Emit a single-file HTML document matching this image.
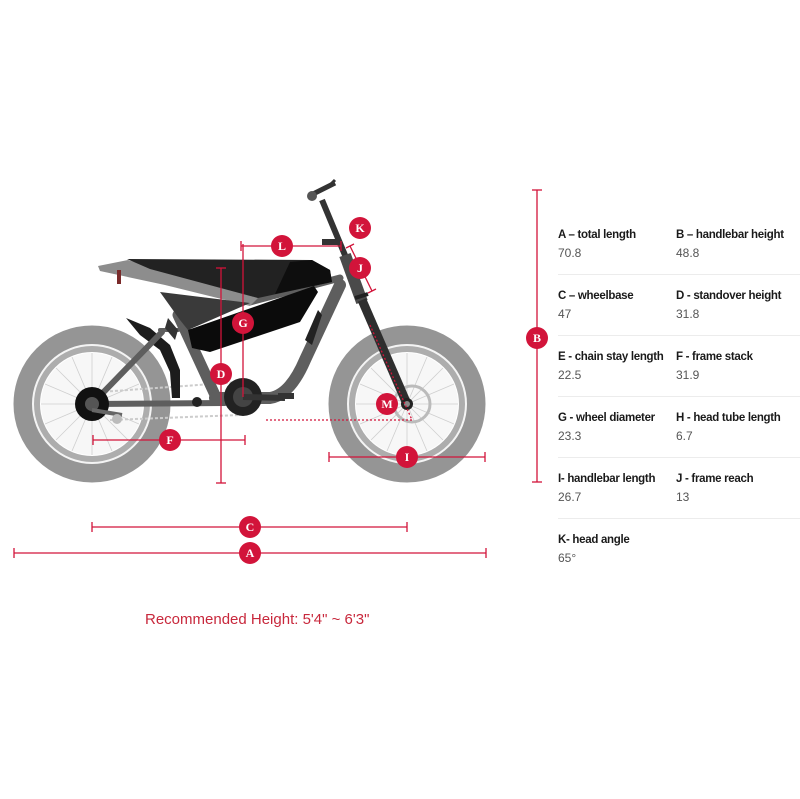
<!DOCTYPE html>
<html><head><meta charset="utf-8"><style>
html,body{margin:0;padding:0;background:#fff;width:800px;height:799px;overflow:hidden}
svg{position:absolute;left:0;top:0}
.lbl{position:absolute;font-family:"Liberation Sans",sans-serif;font-size:11.5px;color:#1a1a1a;font-weight:bold;letter-spacing:-0.3px;white-space:nowrap}
.val{position:absolute;font-family:"Liberation Sans",sans-serif;font-size:12px;color:#555;white-space:nowrap}
.sep{position:absolute;height:1px;background:#ececec}
.rec{position:absolute;left:145px;top:611px;font-family:"Liberation Sans",sans-serif;font-size:15px;color:#c8283c;white-space:nowrap}
</style></head><body>
<svg width="800" height="799" viewBox="0 0 800 799">
<g>
<circle cx="92" cy="404" r="69" fill="none" stroke="#959595" stroke-width="19"/>
<circle cx="92" cy="404" r="59" fill="none" stroke="#f4f4f4" stroke-width="2"/>
<circle cx="92" cy="404" r="55" fill="none" stroke="#adadad" stroke-width="6"/>
<circle cx="92" cy="404" r="51" fill="#f7f7f7"/>
<circle cx="407" cy="404" r="69" fill="none" stroke="#959595" stroke-width="19"/>
<circle cx="407" cy="404" r="59" fill="none" stroke="#f4f4f4" stroke-width="2"/>
<circle cx="407" cy="404" r="55" fill="none" stroke="#adadad" stroke-width="6"/>
<circle cx="407" cy="404" r="51" fill="#f7f7f7"/>
<g stroke="#cfcfcf" stroke-width="0.8">
<line x1="92" y1="353" x2="92" y2="455"/><line x1="41" y1="404" x2="143" y2="404"/>
<line x1="56" y1="368" x2="128" y2="440"/><line x1="128" y1="368" x2="56" y2="440"/>
<line x1="72" y1="357" x2="112" y2="451"/><line x1="112" y1="357" x2="72" y2="451"/>
<line x1="45" y1="384" x2="139" y2="424"/><line x1="139" y1="384" x2="45" y2="424"/>
<line x1="407" y1="353" x2="407" y2="455"/><line x1="356" y1="404" x2="458" y2="404"/>
<line x1="371" y1="368" x2="443" y2="440"/><line x1="443" y1="368" x2="371" y2="440"/>
<line x1="387" y1="357" x2="427" y2="451"/><line x1="427" y1="357" x2="387" y2="451"/>
<line x1="360" y1="384" x2="454" y2="424"/><line x1="454" y1="384" x2="360" y2="424"/>
</g>
<circle cx="412" cy="404" r="18" fill="none" stroke="#bbb" stroke-width="3"/>
</g>
<line x1="100" y1="392" x2="240" y2="382" stroke="#ccc" stroke-width="2" stroke-dasharray="3,2"/>
<line x1="110" y1="420" x2="240" y2="415" stroke="#ccc" stroke-width="2" stroke-dasharray="3,2"/>
<path d="M126 318 L150 328 L170 345 L180 370 L180 398 L172 398 L170 372 L160 350 L140 335 Z" fill="#1c1c1c"/>
<g stroke="#5e5e5e" stroke-linecap="round" fill="none">
<line x1="92" y1="404" x2="225" y2="403" stroke-width="6"/>
<line x1="92" y1="404" x2="162" y2="332" stroke-width="6"/>
<line x1="160" y1="330" x2="178" y2="330" stroke-width="4"/>
<path d="M178 315 L215 395" stroke-width="11"/>
<path d="M340 285 L305 360 Q290 395 270 398 L215 398" stroke-width="12"/>
<line x1="250" y1="302" x2="340" y2="278" stroke-width="7"/>
</g>
<path d="M168 318 L178 330 L175 340 L165 328 Z" fill="#333"/>
<polygon points="98,266 128,260 258,298 250,306 165,285 100,271" fill="#8d8d8d"/>
<rect x="117" y="270" width="4" height="14" fill="#7a2a2a"/>
<polygon points="127,259 312,260 330,270 332,282 258,298 150,269" fill="#222"/>
<polygon points="290,262 312,260 330,270 332,282 275,294" fill="#0e0e0e"/>
<polygon points="160,292 250,303 188,330 180,320" fill="#3a3a3a"/>
<polygon points="188,330 314,286 318,292 300,322 210,352 192,348" fill="#0b0b0b"/>
<polygon points="305,340 318,310 322,315 312,345" fill="#222"/>
<line x1="322" y1="200" x2="347" y2="260" stroke="#333" stroke-width="6"/>
<line x1="345" y1="255" x2="362" y2="302" stroke="#4a4a4a" stroke-width="12"/>
<line x1="362" y1="300" x2="407" y2="404" stroke="#2e2e2e" stroke-width="9"/>
<line x1="355" y1="298" x2="368" y2="294" stroke="#222" stroke-width="4"/>
<rect x="322" y="239" width="16" height="6" fill="#333"/>
<line x1="313" y1="194" x2="335" y2="183" stroke="#333" stroke-width="5"/>
<line x1="328" y1="187" x2="335" y2="180" stroke="#333" stroke-width="3"/>
<circle cx="312" cy="196" r="5" fill="#555"/>
<circle cx="407" cy="404" r="6" fill="#222"/><circle cx="407" cy="404" r="3" fill="#888"/>
<circle cx="92" cy="404" r="17" fill="#111"/>
<circle cx="92" cy="404" r="7" fill="#555"/>
<line x1="92" y1="410" x2="122" y2="415" stroke="#666" stroke-width="4"/>
<circle cx="117" cy="419" r="5" fill="#bbb"/>
<circle cx="197" cy="402" r="5" fill="#222"/>
<circle cx="243" cy="397" r="19" fill="#222"/>
<circle cx="243" cy="397" r="10" fill="#444"/>
<line x1="243" y1="397" x2="285" y2="398" stroke="#333" stroke-width="6"/>
<rect x="278" y="393" width="16" height="6" fill="#333"/>
<g stroke="#d2143a" fill="none" stroke-width="1.3">
<line x1="241" y1="246" x2="341" y2="246"/><line x1="241" y1="241" x2="241" y2="251"/><line x1="341" y1="241" x2="341" y2="251"/>
<line x1="243" y1="244" x2="243" y2="397"/>
<line x1="221" y1="268" x2="221" y2="483"/><line x1="216" y1="268" x2="226" y2="268"/><line x1="216" y1="483" x2="226" y2="483"/>
<line x1="93" y1="440" x2="245" y2="440"/><line x1="93" y1="435" x2="93" y2="445"/><line x1="245" y1="435" x2="245" y2="445"/>
<line x1="329" y1="457" x2="485" y2="457"/><line x1="329" y1="452" x2="329" y2="462"/><line x1="485" y1="452" x2="485" y2="462"/>
<line x1="92" y1="527" x2="407" y2="527"/><line x1="92" y1="522" x2="92" y2="532"/><line x1="407" y1="522" x2="407" y2="532"/>
<line x1="14" y1="553" x2="486" y2="553"/><line x1="14" y1="548" x2="14" y2="558"/><line x1="486" y1="548" x2="486" y2="558"/>
<line x1="537" y1="190" x2="537" y2="482"/><line x1="532" y1="190" x2="542" y2="190"/><line x1="532" y1="482" x2="542" y2="482"/>
<line x1="350" y1="246" x2="372" y2="291"/><line x1="346" y1="248" x2="354" y2="244"/><line x1="368" y1="293" x2="376" y2="289"/>
<line x1="266" y1="420" x2="412" y2="420" stroke-dasharray="2,2"/>
<line x1="370" y1="325" x2="412" y2="420" stroke-dasharray="2,2"/>
</g>
<g fill="#d2143a" font-family="Liberation Serif,serif" font-weight="bold" font-size="12" text-anchor="middle">
<circle cx="282" cy="246" r="11"/><circle cx="360" cy="228" r="11"/><circle cx="360" cy="268" r="11"/>
<circle cx="243" cy="323" r="11"/><circle cx="221" cy="374" r="11"/><circle cx="387" cy="404" r="11"/>
<circle cx="170" cy="440" r="11"/><circle cx="407" cy="457" r="11"/><circle cx="250" cy="527" r="11"/>
<circle cx="250" cy="553" r="11"/><circle cx="537" cy="338" r="11"/>
<g fill="#fff">
<text x="282" y="250">L</text><text x="360" y="232">K</text><text x="360" y="272">J</text>
<text x="243" y="327">G</text><text x="221" y="378">D</text><text x="387" y="408">M</text>
<text x="170" y="444">F</text><text x="407" y="461">I</text><text x="250" y="531">C</text>
<text x="250" y="557">A</text><text x="537" y="342">B</text>
</g></g>
</svg>
<div class="lbl" style="left:558px;top:229px">A – total length</div><div class="val" style="left:558px;top:246px">70.8</div>
<div class="lbl" style="left:676px;top:229px">B – handlebar height</div><div class="val" style="left:676px;top:246px">48.8</div>
<div class="sep" style="left:558px;top:274px;width:242px"></div>
<div class="lbl" style="left:558px;top:290px">C – wheelbase</div><div class="val" style="left:558px;top:307px">47</div>
<div class="lbl" style="left:676px;top:290px">D - standover height</div><div class="val" style="left:676px;top:307px">31.8</div>
<div class="sep" style="left:558px;top:335px;width:242px"></div>
<div class="lbl" style="left:558px;top:351px">E - chain stay length</div><div class="val" style="left:558px;top:368px">22.5</div>
<div class="lbl" style="left:676px;top:351px">F - frame stack</div><div class="val" style="left:676px;top:368px">31.9</div>
<div class="sep" style="left:558px;top:396px;width:242px"></div>
<div class="lbl" style="left:558px;top:412px">G - wheel diameter</div><div class="val" style="left:558px;top:429px">23.3</div>
<div class="lbl" style="left:676px;top:412px">H - head tube length</div><div class="val" style="left:676px;top:429px">6.7</div>
<div class="sep" style="left:558px;top:457px;width:242px"></div>
<div class="lbl" style="left:558px;top:473px">I- handlebar length</div><div class="val" style="left:558px;top:490px">26.7</div>
<div class="lbl" style="left:676px;top:473px">J - frame reach</div><div class="val" style="left:676px;top:490px">13</div>
<div class="sep" style="left:558px;top:518px;width:242px"></div>
<div class="lbl" style="left:558px;top:534px">K- head angle</div><div class="val" style="left:558px;top:551px">65°</div>
<div class="rec">Recommended Height: 5'4" ~ 6'3"</div>
</body></html>
